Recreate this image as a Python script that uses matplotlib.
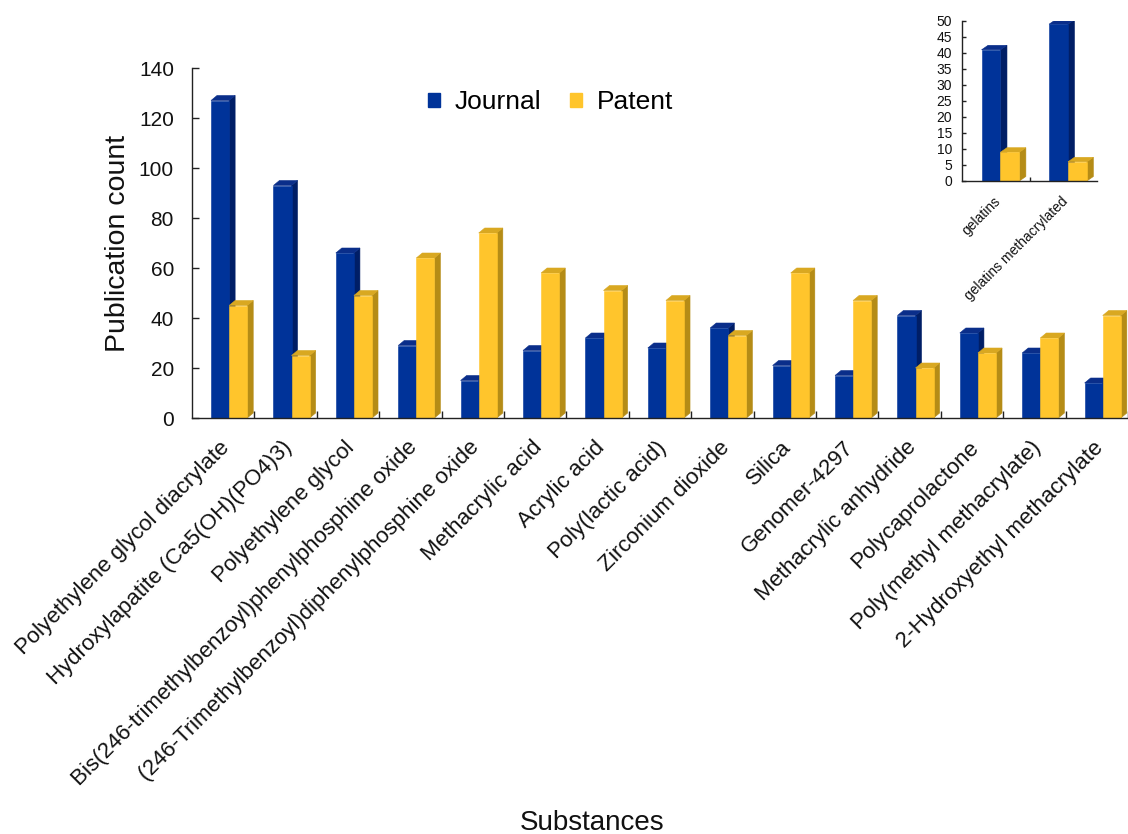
import matplotlib
matplotlib.use("Agg")
import matplotlib.pyplot as plt
from matplotlib.patches import Polygon, Rectangle, Patch
import matplotlib.transforms as mtransforms

plt.rcParams['font.family'] = ['Liberation Sans', 'DejaVu Sans']

# ---- data -------------------------------------------------------------
substances = [
    "Polyethylene glycol diacrylate",
    "Hydroxylapatite (Ca5(OH)(PO4)3)",
    "Polyethylene glycol",
    "Bis(246-trimethylbenzoyl)phenylphosphine oxide",
    "(246-Trimethylbenzoyl)diphenylphosphine oxide",
    "Methacrylic acid",
    "Acrylic acid",
    "Poly(lactic acid)",
    "Zirconium dioxide",
    "Silica",
    "Genomer-4297",
    "Methacrylic anhydride",
    "Polycaprolactone",
    "Poly(methyl methacrylate)",
    "2-Hydroxyethyl methacrylate",
]
journal = [127, 93, 66, 29, 15, 27, 32, 28, 36, 21, 17, 41, 34, 26, 14]
patent = [45, 25, 49, 64, 74, 58, 51, 47, 33, 58, 47, 20, 26, 32, 41]

inset_substances = ["gelatins", "gelatins methacrylated"]
inset_journal = [41, 49]
inset_patent = [9, 6]

series_names = ["Journal", "Patent"]

# ---- style ------------------------------------------------------------
FACE = {"Journal": "#003399", "Patent": "#FFC52C"}
SIDE = {"Journal": "#001E66", "Patent": "#B58C16"}
TOP = {"Journal": "#0A2E8A", "Patent": "#D9A821"}

W, H, DPI = 1128, 834, 100
fig = plt.figure(figsize=(W / DPI, H / DPI), dpi=DPI)
fig.patch.set_facecolor("white")


def px_axes(left, top, right, bottom):
    """Axes rectangle given in figure pixels (origin top-left)."""
    return [left / W, (H - bottom) / H, (right - left) / W, (bottom - top) / H]


def bar3d(ax, x0, width, h, name, dx, dy):
    """Front face plus shaded side and top faces of a pseudo-3D column."""
    x1 = x0 + width
    kw = dict(linewidth=0.4, joinstyle="miter")
    ax.add_patch(Polygon([(x1, 0), (x1 + dx, dy), (x1 + dx, h + dy), (x1, h)],
                         closed=True, facecolor=SIDE[name], edgecolor=SIDE[name], **kw))
    ax.add_patch(Polygon([(x0, h), (x0 + dx, h + dy), (x1 + dx, h + dy), (x1, h)],
                         closed=True, facecolor=TOP[name], edgecolor=TOP[name], **kw))
    ax.add_patch(Rectangle((x0, 0), width, h, facecolor=FACE[name],
                           edgecolor=FACE[name], **kw))


def style_axes(ax, ymax, ystep, ncat, tick_len, label_size, label_pad):
    ax.set_xlim(0, ncat)
    ax.set_ylim(0, ymax)
    ax.set_facecolor("none")
    for s in ("top", "right"):
        ax.spines[s].set_visible(False)
    for s in ("left", "bottom"):
        ax.spines[s].set_linewidth(1.0)
        ax.spines[s].set_color("#222222")
    ax.set_yticks(range(0, ymax + 1, ystep))
    ax.set_xticks(range(1, ncat + 1))
    ax.set_xticklabels([])
    ax.tick_params(axis="both", direction="in", length=tick_len, width=1.0,
                   color="#222222")
    ax.tick_params(axis="y", labelsize=label_size, pad=label_pad,
                   labelcolor="#111111")


# ---- main chart -------------------------------------------------------
ax = fig.add_axes(px_axes(192, 68, 1128, 418))
n = len(substances)
style_axes(ax, 140, 20, n, 5, 15, 13)

cat_px = (1128 - 192) / n
unit_px = (418 - 68) / 140
dx_main = 6.0 / cat_px
dy_main = 5.0 / unit_px
bw = 0.29
for i in range(n):
    bar3d(ax, i + 0.305, bw, journal[i], "Journal", dx_main, dy_main)
    bar3d(ax, i + 0.305 + bw, bw, patent[i], "Patent", dx_main, dy_main)

lab_tr = mtransforms.blended_transform_factory(ax.transData, ax.transAxes)
for i, name in enumerate(substances):
    ax.text(i + 0.44, -19 / 350, name, transform=lab_tr, rotation=45,
            rotation_mode="anchor", ha="right", va="top", fontsize=16,
            color="#111111")

fig.text(118 / W, 1 - 243 / H, "Publication count", rotation=90,
         ha="center", va="center", fontsize=20.5, color="#111111")
fig.text(592 / W, (H - 830) / H, "Substances", ha="center", va="baseline",
         fontsize=20, color="#111111")

handles = [Patch(facecolor=FACE[s], edgecolor=FACE[s]) for s in series_names]
fig.legend(handles, series_names, loc="center left",
           bbox_to_anchor=(428 / W, 1 - 102 / H), ncol=2, frameon=False,
           fontsize=19, handlelength=0.45, handleheight=0.45,
           handletextpad=0.55, columnspacing=1.1, borderpad=0,
           borderaxespad=0)

# ---- inset chart ------------------------------------------------------
ax2 = fig.add_axes(px_axes(962, 21, 1097, 181))
m = len(inset_substances)
style_axes(ax2, 50, 5, m, 3, 10, 7)
ax2.set_xticks([1])

cat2_px = (1097 - 962) / m
unit2_px = (181 - 21) / 50
dx_in = 6.5 / cat2_px
dy_in = 4.5 / unit2_px
bw2 = 0.28
for i in range(m):
    bar3d(ax2, i + 0.29, bw2, inset_journal[i], "Journal", dx_in, dy_in)
    bar3d(ax2, i + 0.29 + bw2, bw2, inset_patent[i], "Patent", dx_in, dy_in)

lab_tr2 = mtransforms.blended_transform_factory(ax2.transData, ax2.transAxes)
for i, name in enumerate(inset_substances):
    ax2.text(i + 0.47, -13 / 160, name, transform=lab_tr2, rotation=45,
             rotation_mode="anchor", ha="right", va="top", fontsize=10,
             color="#111111")

fig.savefig("out.png", dpi=DPI, facecolor="white")
